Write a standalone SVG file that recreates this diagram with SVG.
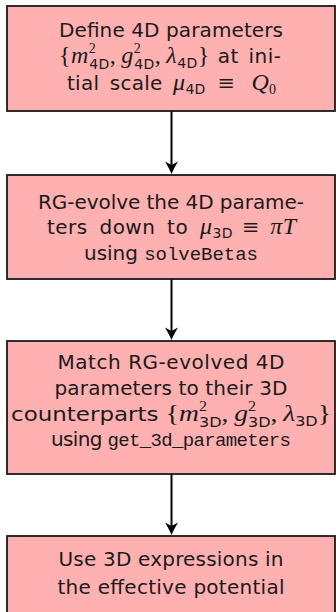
<svg xmlns="http://www.w3.org/2000/svg" width="336" height="612" viewBox="0 0 336 612">
<style>
.box{fill:#ffb0b0;stroke:#1a1a1a;stroke-width:1.8}
.t{font-family:"DejaVu Sans",sans-serif;font-size:20px;fill:#1a1a1a;text-anchor:middle}
.mi{font-family:"Liberation Serif",serif;font-style:italic;font-size:24px}
.mr{font-family:"Liberation Serif",serif;font-size:24px}
.rel{font-family:"DejaVu Serif",serif;font-size:21px}
.sup{font-family:"Liberation Serif",serif;font-size:14px}
.sub{font-family:"DejaVu Sans",sans-serif;font-size:14px}
.tt{font-family:"Liberation Mono",monospace;font-size:19px}
.conn{stroke:#000;stroke-width:2;fill:none;marker-end:url(#ah)}
</style>
<defs>
<marker id="ah" viewBox="-14 -8 16 16" markerWidth="16" markerHeight="16" refX="-8" refY="0" orient="auto" markerUnits="userSpaceOnUse">
<path d="M0,0 Q-5,-2 -12.5,-6.5 L-9,0 L-12.5,6.5 Q-5,2 0,0 Z" fill="#000"/>
</marker>
</defs>
<g id="connectors">
<path class="conn" d="M171.5,111 V166"/>
<path class="conn" d="M171.5,279 V332"/>
<path class="conn" d="M171.5,474 V527"/>
</g>
<g id="node1">
<rect class="box" x="7" y="6" width="328" height="105"/>
<text class="t" x="171" y="37" textLength="224">Define 4D parameters</text>
<text class="t" x="170" y="63" textLength="222" word-spacing="3"><tspan class="mr">{</tspan><tspan class="mi">m</tspan><tspan class="sup" dy="-10">2</tspan><tspan class="sub" dx="-7" dy="16">4D</tspan><tspan class="mr" dy="-6">,</tspan><tspan class="mi" dx="5">g</tspan><tspan class="sup" dy="-10">2</tspan><tspan class="sub" dx="-7" dy="16">4D</tspan><tspan class="mr" dy="-6">,</tspan><tspan class="mi" dx="5">λ</tspan><tspan class="sub" dy="5">4D</tspan><tspan class="mr" dy="-5">}</tspan><tspan dx="8">at ini-</tspan></text>
<text class="t" x="171.5" y="90" textLength="209" word-spacing="4">tial scale <tspan class="mi">μ</tspan><tspan class="sub" dy="4">4D</tspan><tspan class="rel" dx="12" dy="-4">≡</tspan><tspan class="mi" dx="16">Q</tspan><tspan class="sup" dy="4">0</tspan></text>
</g>
<g id="node2">
<rect class="box" x="7" y="175" width="328" height="104"/>
<text class="t" x="171" y="209" textLength="266">RG-evolve the 4D parame-</text>
<text class="t" x="171.5" y="234" textLength="249" word-spacing="5">ters down to <tspan class="mi">μ</tspan><tspan class="sub" dy="4">3D</tspan><tspan class="rel" dx="9" dy="-4">≡</tspan><tspan class="mi" dx="10">πT</tspan></text>
<text class="t" x="171" y="260" textLength="174">using <tspan class="tt">solveBetas</tspan></text>
</g>
<g id="node3">
<rect class="box" x="7" y="341" width="328" height="133"/>
<text class="t" x="171" y="369" textLength="227">Match RG-evolved 4D</text>
<text class="t" x="171" y="395" textLength="233">parameters to their 3D</text>
<text class="t" x="171" y="421" textLength="320" lengthAdjust="spacingAndGlyphs">counterparts <tspan class="mr">{</tspan><tspan class="mi">m</tspan><tspan class="sup" dy="-10">2</tspan><tspan class="sub" dx="-7" dy="16">3D</tspan><tspan class="mr" dy="-6">,</tspan><tspan class="mi" dx="5">g</tspan><tspan class="sup" dy="-10">2</tspan><tspan class="sub" dx="-7" dy="16">3D</tspan><tspan class="mr" dy="-6">,</tspan><tspan class="mi" dx="5">λ</tspan><tspan class="sub" dy="5">3D</tspan><tspan class="mr" dy="-5">}</tspan></text>
<text class="t" x="171" y="446" textLength="240">using <tspan class="tt">get_3d_parameters</tspan></text>
</g>
<g id="node4">
<rect class="box" x="7" y="536" width="328" height="100"/>
<text class="t" x="171" y="566" textLength="225">Use 3D expressions in</text>
<text class="t" x="171" y="594" textLength="227">the effective potential</text>
</g>
</svg>
